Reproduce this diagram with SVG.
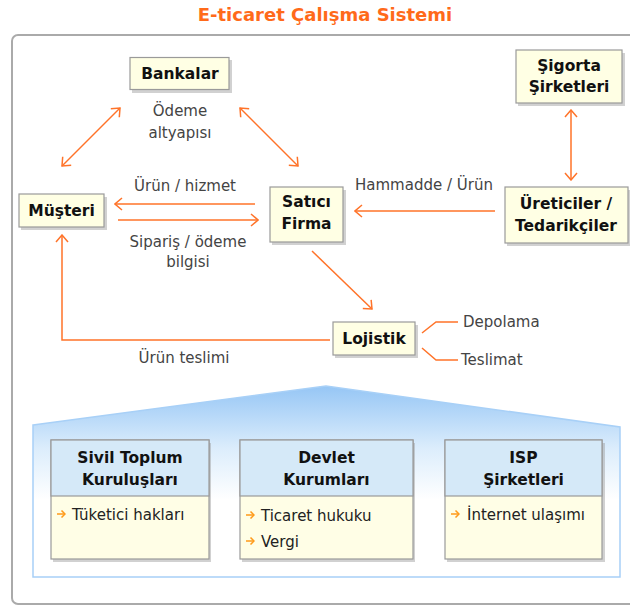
<svg xmlns="http://www.w3.org/2000/svg" width="630" height="606" viewBox="0 0 630 606">
<style>
.title{font-family:"DejaVu Sans",sans-serif;font-weight:bold;font-size:18px;fill:#FF6A1A;text-anchor:middle}
.node{fill:#FFFFE4;stroke:#9A9A9A;stroke-width:1.2}
.shadow{fill:#9a9a9a;opacity:0.45}
.nt{font-family:"DejaVu Sans",sans-serif;font-weight:bold;font-size:15.5px;fill:#111;text-anchor:middle}
.lbl{font-family:"DejaVu Sans",sans-serif;font-size:15px;fill:#444;text-anchor:middle}
.lbls{font-family:"DejaVu Sans",sans-serif;font-size:15px;fill:#444}
.item{font-family:"DejaVu Sans",sans-serif;font-size:15px;fill:#222}
.ar{fill:none;stroke:#FF7329;stroke-width:1.5}
.hd{fill:#D5E9F8;stroke:#9A9A9A;stroke-width:1.2}
.bd{fill:#FFFEE6;stroke:#9A9A9A;stroke-width:1.2}
.bul{fill:none;stroke:#FF9A1A;stroke-width:1.5}
</style>
<defs>
<marker id="ah" viewBox="-8 -7 9 14" refX="0" refY="0" markerWidth="9" markerHeight="14" markerUnits="userSpaceOnUse" orient="auto-start-reverse">
<path d="M-7,-6 L0,0 L-7,6" fill="none" stroke="#FF7329" stroke-width="1.5"/>
</marker>
<marker id="bh" viewBox="-5 -4 6 8" refX="0" refY="0" markerWidth="6" markerHeight="8" markerUnits="userSpaceOnUse" orient="auto">
<path d="M-3.5,-3.5 L0,0 L-3.5,3.5" fill="none" stroke="#FF9A1A" stroke-width="1.5"/>
</marker>
<linearGradient id="bg" gradientUnits="userSpaceOnUse" x1="0" y1="386" x2="0" y2="500">
<stop offset="0" stop-color="#96C6F5"/>
<stop offset="0.55" stop-color="#DCEDFC"/>
<stop offset="1" stop-color="#FFFFFF"/>
</linearGradient>
</defs>
<rect width="630" height="606" fill="#fff"/>
<text class="title" x="325" y="21">E-ticaret Çalışma Sistemi</text>
<rect x="12" y="35" width="640" height="569" rx="6" fill="#fff" stroke="#AAAAAA" stroke-width="2"/>

<g id="connectors">
<line class="ar" x1="62" y1="166" x2="120" y2="108" marker-start="url(#ah)" marker-end="url(#ah)"/>
<line class="ar" x1="240" y1="108" x2="298" y2="166" marker-start="url(#ah)" marker-end="url(#ah)"/>
<line class="ar" x1="255" y1="204" x2="115" y2="204" marker-end="url(#ah)"/>
<line class="ar" x1="118" y1="220" x2="258" y2="220" marker-end="url(#ah)"/>
<line class="ar" x1="571" y1="110" x2="571" y2="180" marker-start="url(#ah)" marker-end="url(#ah)"/>
<line class="ar" x1="495" y1="211" x2="355" y2="211" marker-end="url(#ah)"/>
<line class="ar" x1="312" y1="251" x2="372" y2="309" marker-end="url(#ah)"/>
<path class="ar" d="M330,340 H62 V235" marker-end="url(#ah)"/>
<path class="ar" d="M422,333 L436,322 H458"/>
<path class="ar" d="M422,348 L436,360 H458"/>
<text class="lbl" x="180" y="116">Ödeme</text>
<text class="lbl" x="180" y="138">altyapısı</text>
<text class="lbl" x="185" y="191">Ürün / hizmet</text>
<text class="lbl" x="188" y="247">Sipariş / ödeme</text>
<text class="lbl" x="188" y="267">bilgisi</text>
<text class="lbl" x="424" y="190">Hammadde / Ürün</text>
<text class="lbl" x="184" y="363">Ürün teslimi</text>
<text class="lbls" x="463" y="327">Depolama</text>
<text class="lbls" x="461" y="365">Teslimat</text>
</g>

<g id="bankalar">
<rect class="shadow" x="132" y="60" width="100" height="33"/>
<rect class="node" x="130" y="57.5" width="99" height="32"/>
<text class="nt" x="180" y="79">Bankalar</text>
</g>
<g id="musteri">
<rect class="shadow" x="21" y="197" width="86" height="33"/>
<rect class="node" x="19" y="194" width="85" height="33"/>
<text class="nt" x="61.5" y="216">Müşteri</text>
</g>
<g id="satici">
<rect class="shadow" x="272" y="190" width="74" height="55"/>
<rect class="node" x="270" y="187" width="73" height="55"/>
<text class="nt" x="306.5" y="207">Satıcı</text>
<text class="nt" x="306.5" y="229">Firma</text>
</g>
<g id="sigorta">
<rect class="shadow" x="518" y="53" width="107" height="53"/>
<rect class="node" x="516" y="50" width="106" height="53"/>
<text class="nt" x="569" y="71">Şigorta</text>
<text class="nt" x="569" y="92">Şirketleri</text>
</g>
<g id="ureticiler">
<rect class="shadow" x="507" y="190" width="124" height="56"/>
<rect class="node" x="505" y="187" width="123" height="56"/>
<text class="nt" x="566" y="209">Üreticiler /</text>
<text class="nt" x="566" y="231">Tedarikçiler</text>
</g>
<g id="lojistik">
<rect class="shadow" x="335" y="325" width="83" height="33"/>
<rect class="node" x="333" y="322" width="82" height="33"/>
<text class="nt" x="374" y="344">Lojistik</text>
</g>

<g id="zemin">
<polygon points="33,425 326,386 620,427 620,577 33,577" fill="url(#bg)" stroke="#A8D0F7" stroke-width="1.5"/>
</g>

<g id="sivil">
<rect class="shadow" x="53" y="443" width="158" height="119"/>
<rect class="bd" x="51" y="440" width="158" height="119"/>
<rect class="hd" x="51" y="440" width="158" height="56"/>
<text class="nt" x="130" y="463">Sivil Toplum</text>
<text class="nt" x="130" y="485">Kuruluşları</text>
<line class="bul" x1="57" y1="514" x2="65" y2="514" marker-end="url(#bh)"/>
<text class="item" x="72" y="520">Tüketici hakları</text>
</g>
<g id="devlet">
<rect class="shadow" x="242" y="443" width="173" height="119"/>
<rect class="bd" x="240" y="440" width="173" height="119"/>
<rect class="hd" x="240" y="440" width="173" height="56"/>
<text class="nt" x="326.5" y="463">Devlet</text>
<text class="nt" x="326.5" y="485">Kurumları</text>
<line class="bul" x1="246" y1="515" x2="254" y2="515" marker-end="url(#bh)"/>
<text class="item" x="261" y="521">Ticaret hukuku</text>
<line class="bul" x1="246" y1="541" x2="254" y2="541" marker-end="url(#bh)"/>
<text class="item" x="261" y="547">Vergi</text>
</g>
<g id="isp">
<rect class="shadow" x="447" y="443" width="158" height="119"/>
<rect class="bd" x="445" y="440" width="157" height="119"/>
<rect class="hd" x="445" y="440" width="157" height="56"/>
<text class="nt" x="523.5" y="463">ISP</text>
<text class="nt" x="523.5" y="485">Şirketleri</text>
<line class="bul" x1="451" y1="514" x2="459" y2="514" marker-end="url(#bh)"/>
<text class="item" x="467" y="520">İnternet ulaşımı</text>
</g>
</svg>
